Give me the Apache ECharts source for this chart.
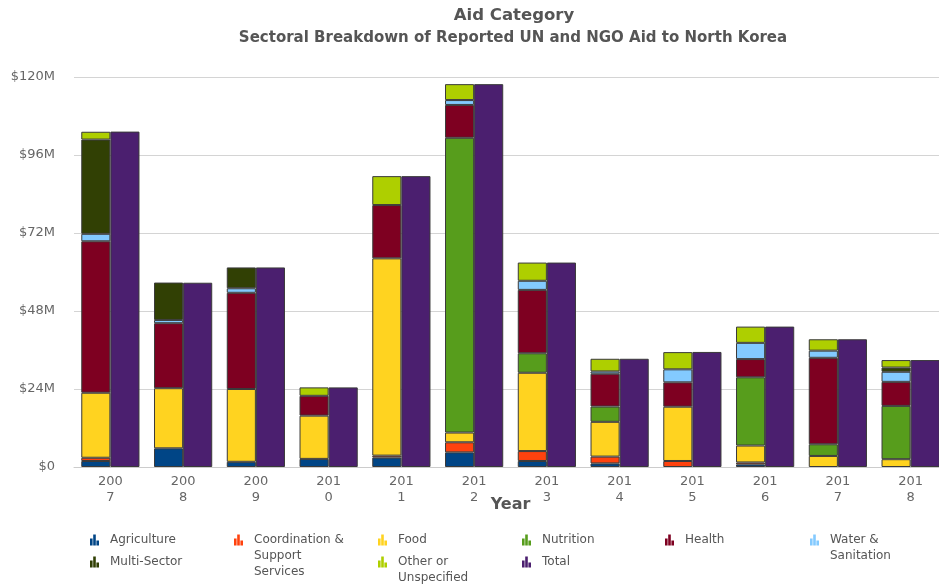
<!DOCTYPE html>
<html><head><meta charset="utf-8">
<script src="https://cdn.jsdelivr.net/npm/echarts@6/dist/echarts.min.js"></script>
<style>html,body{margin:0;padding:0;background:#fff}#c{width:939px;height:585px}</style>
</head><body><div id="c"></div>
<script>
const years = ['2007','2008','2009','2010','2011','2012','2013','2014','2015','2016','2017','2018'];
const yTicks = [0, 24, 48, 72, 96, 120];
const agriculture  = [1.85, 5.75, 1.6, 2.5, 2.9, 4.5, 1.85, 1.1, 0, 0.8, 0, 0];
const coordination = [1.0, 0, 0, 0, 0.6, 3.1, 3.05, 2.1, 1.85, 0.6, 0, 0];
const food         = [20.0, 18.5, 22.4, 13.3, 60.7, 3.0, 24.1, 10.7, 16.7, 5.2, 3.4, 2.4];
const nutrition    = [0, 0, 0, 0, 0, 90.7, 6.0, 4.7, 0, 21.0, 3.6, 16.4];
const health       = [46.6, 20.0, 29.6, 6.1, 16.4, 10.1, 19.5, 10.1, 7.5, 5.6, 26.6, 7.4];
const water        = [2.3, 1.0, 1.4, 0, 0, 1.5, 2.8, 0.7, 4.0, 5.0, 2.2, 3.1];
const multiSector  = [29.0, 11.5, 6.4, 0, 0, 0, 0, 0, 0, 0, 0, 1.3];
const other        = [2.4, 0, 0, 2.6, 8.9, 4.9, 5.6, 3.9, 5.3, 5.0, 3.5, 2.3];
const total        = [103.2, 56.7, 61.4, 24.5, 89.5, 117.8, 62.9, 33.3, 35.4, 43.2, 39.3, 32.9];

const seriesNames = ['Agriculture','Coordination & Support Services','Food','Nutrition','Health','Water & Sanitation','Multi-Sector','Other or Unspecified','Total'];
const seriesData = [agriculture, coordination, food, nutrition, health, water, multiSector, other, total];
const colors = ['#004586','#ff420e','#ffd320','#579d1c','#7e0021','#83caff','#314004','#aecf00','#4b1f6f'];
const legendLines = {
  'Coordination & Support Services': ['Coordination &', 'Support', 'Services'],
  'Water & Sanitation': ['Water &', 'Sanitation'],
  'Other or Unspecified': ['Other or', 'Unspecified']
};
// legend placement [left, icon center y]
const legendPos = [[90,540],[234,540],[378,540],[522,540],[665,540],[810,540],[90,562],[378,562],[522,562]];
const icon = 'path://M0,4h2.6v7h-2.6zM3.2,0h2.6v11h-2.6zM6.4,6h2.6v5h-2.6z';

const FONT = 'DejaVu Sans';
const series = seriesNames.map((n, i) => ({
  name: n,
  type: 'bar',
  stack: i < 8 ? 'sectors' : undefined,
  barGap: '0%',
  barCategoryGap: '20%',
  itemStyle: { color: colors[i], borderColor: '#3a3a3a', borderWidth: 1 },
  data: seriesData[i].map(v => v === 0 ? '-' : v)
}));

const IH = 11, LH = 16;
const legends = seriesNames.map((n, i) => {
  const lines = legendLines[n] || [n];
  const k = lines.length;
  // prepend blank lines so the first text line sits level with the icon
  const txt = new Array(k - 1).fill('').concat(lines).join('\n');
  return {
    data: [n],
    left: legendPos[i][0],
    top: legendPos[i][1] - (2 * k - 1) * LH / 2,
    icon: icon,
    itemWidth: 9,
    itemHeight: IH,
    itemGap: 0,
    padding: 0,
    selectedMode: false,
    itemStyle: { borderWidth: 0 },
    formatter: () => txt,
    textStyle: { fontFamily: FONT, fontSize: 12, color: '#555', lineHeight: LH, padding: [0, 0, 0, 6] }
  };
});

const chart = echarts.init(document.getElementById('c'), null, { renderer: 'canvas' });
chart.setOption({
  animation: false,
  color: colors,
  title: [
    { text: 'Aid Category', left: 509, textAlign: 'center', top: 2, textStyle: { fontFamily: FONT, fontSize: 16.5, fontWeight: 'bold', color: '#555' } },
    { text: 'Sectoral Breakdown of Reported UN and NGO Aid to North Korea', left: 508, textAlign: 'center', top: 26, textStyle: { fontFamily: FONT, fontSize: 15, fontWeight: 'bold', color: '#555' } }
  ],
  legend: legends,
  grid: { left: 74, right: -8, top: 77, bottom: 118, containLabel: false, outerBoundsMode: 'none' },
  xAxis: {
    type: 'category',
    data: years,
    name: 'Year',
    nameLocation: 'middle',
    nameGap: 30,
    nameMoveOverlap: false,
    nameTextStyle: { fontFamily: FONT, fontSize: 16, fontWeight: 'bold', color: '#555' },
    axisLine: { lineStyle: { color: '#ccc', width: 1 } },
    axisTick: { show: false },
    axisLabel: { fontFamily: FONT, fontSize: 13, color: '#666', lineHeight: 16, margin: 7, interval: 0, formatter: v => v.slice(0, 3) + '\n' + v.slice(3) }
  },
  yAxis: {
    type: 'value',
    min: yTicks[0],
    max: yTicks[yTicks.length - 1],
    interval: yTicks[1] - yTicks[0],
    axisLine: { show: false },
    axisTick: { show: false },
    splitLine: { lineStyle: { color: '#d4d4d4', width: 1 } },
    axisLabel: { fontFamily: FONT, fontSize: 13, color: '#666', margin: 19, formatter: v => v === 0 ? '$0' : '$' + v + 'M' }
  },
  series: series
});
</script></body></html>
